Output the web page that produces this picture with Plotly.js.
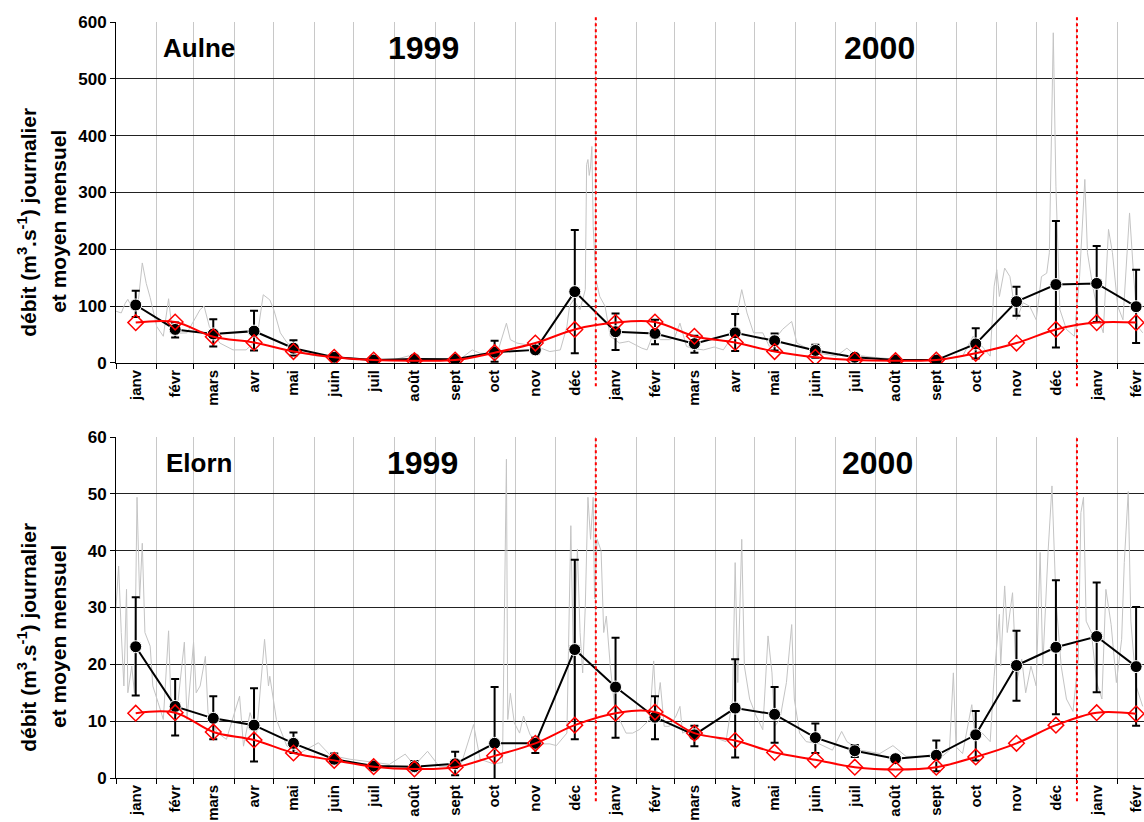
<!DOCTYPE html>
<html><head><meta charset="utf-8">
<script src="https://cdn.plot.ly/plotly-3.0.1.min.js"></script>
<style>html,body{margin:0;padding:0;overflow:hidden;background:#fff}</style>
</head><body><div id="chart" style="width:1144px;height:822px"></div>
<script>
// ---- month axis ----
const midMonths = ['1999-01-16','1999-02-15','1999-03-16','1999-04-16','1999-05-16','1999-06-16','1999-07-16','1999-08-16','1999-09-16','1999-10-16','1999-11-16','1999-12-16',
  '2000-01-16','2000-02-15','2000-03-16','2000-04-16','2000-05-16','2000-06-16','2000-07-16','2000-08-16','2000-09-16','2000-10-16','2000-11-16','2000-12-16','2001-01-16','2001-02-15'];
const tickLabels = ['janv','févr','mars','avr','mai','juin','juil','août','sept','oct','nov','déc',
  'janv','févr','mars','avr','mai','juin','juil','août','sept','oct','nov','déc','janv','févr'];
const yearBreaks = ['2000-01-01','2001-01-01'];
const yTitleLines = ['débit (m<sup>3</sup>.s<sup>-1</sup>) journalier', 'et moyen mensuel'];

// ---- Aulne ----
const aulneMean = [102,59,51,56,26,10,5,7,6.5,19,23,125.5,55,52,34,53,39,22,10,5,5,33.5,108,138,140,99];
const aulneMax  = [127,71,77,92,40,13,6,9,8,39,26,234,87,76,48,86,52,32,12,6,6,61,134,250,206,164];
const aulneMin  = [81,45,29,22,13,8,4,5,5,2,20,17,23,33,18,21,22,9,8,4,4,8,83,27,72,35];
const aulneInter = [71,72,46,36,20,10,5,4,5,18,35,59,71,72,47,36,20,10,5,4,5,17,35,59,71,71];
const aulneDays = [0,4,7,9,12,17,20,23,26,31,36,40,43,54,64,67,71,79,89,99,107,112,117,120,125,130,140,153,166,182,197,212,227,231,246,262,271,277,290,297,300,305,320,330,338,343,345,348,353,357,358,359,360,361,362,363,365,368,372,376,383,390,396,400,404,409,414,421,425,429,434,440,447,455,462,469,476,480,485,492,497,507,514,518,523,535,548,556,562,576,596,627,644,652,660,665,668,670,672,676,680,685,690,695,700,704,708,710,713,715,718,723,729,733,737,739,743,748,751,755,758,762,766,771,774,777,781];
const aulneDaily = [91,88,105,112,98,110,176,140,115,64,47,113,52,53,94,100,64,35,23,23,40,120,111,94,53,36,18,12,11,8,6,6,15,7,6,7,23,17,17,70,41,35,29,20,23,64,100,111,94,129,349,358,330,345,381,240,147,117,100,47,35,38,30,26,23,53,41,41,45,70,29,25,23,28,23,47,129,88,53,53,29,59,73,35,29,17,12,26,14,10,6,6,12,47,26,12,135,164,117,167,152,76,106,100,76,152,158,194,581,311,94,59,47,152,323,194,135,76,53,235,194,100,76,264,158,65,53];

// ---- Elorn ----
const elornMean = [23.1,12.6,10.5,9.3,6.1,3.3,2.1,2.0,2.5,6.1,6.1,22.6,16.0,10.7,7.6,12.3,11.2,7.1,4.8,3.4,4.0,7.6,19.8,23.0,24.9,19.6];
const elornMax  = [31.8,17.4,14.4,15.8,8.0,4.3,2.4,3.0,4.6,16.0,7.1,38.4,24.7,14.4,9.2,20.9,16.0,9.6,5.8,3.8,6.6,11.8,25.9,34.8,34.4,30.1];
const elornMin  = [14.5,7.5,6.8,2.9,4.4,2.8,1.9,1.2,0.5,-0.5,4.4,6.8,7.1,6.8,5.6,3.6,6.2,4.4,3.7,3.0,1.2,3.1,13.6,11.2,15.1,9.2];
const elornInter = [11.4,11.5,8.1,6.7,4.4,3.1,2.0,1.6,1.9,3.9,6.1,9.3,11.4,11.6,7.9,6.6,4.5,3.2,1.9,1.5,1.9,3.7,6.1,9.3,11.5,11.3];
const elornDays = [0,2,4,6,8,9,12,14,16,18,20,22,26,28,32,36,40,42,46,52,54,59,61,64,68,70,77,84,94,97,102,107,113,116,117,122,130,140,154,163,178,193,208,220,227,237,246,262,272,277,287,294,297,298,300,303,307,310,315,322,330,335,343,346,348,351,353,355,357,359,361,363,364,366,369,371,373,376,380,383,388,393,398,406,409,411,414,417,421,426,429,431,436,447,457,464,469,471,473,476,478,482,487,492,496,499,501,505,510,514,516,520,525,535,545,552,556,566,581,591,601,615,627,634,637,639,644,651,654,659,665,668,672,673,676,678,682,685,689,692,696,700,703,705,709,712,715,719,723,728,732,734,736,738,742,746,750,753,757,761,765,767,770,772,776,781];
const elornDaily = [30,37.3,25.6,16.2,33.2,15.0,19.7,15.0,49.4,31.5,41.3,25.6,23.2,16.2,13.3,10.3,25.9,12.1,10.9,23.9,10.3,23.9,15.0,16.2,21.4,11.5,8.0,6.8,14.4,5.6,11.5,8.0,24.4,16.2,17.9,10.3,5.6,4.4,6.2,4.0,3.3,2.8,2.4,4.2,2.2,4.7,2.0,2.0,9.4,3.3,2.5,2.7,56.1,10.3,14.9,9.7,7.9,10.9,7.6,6.0,6.0,5.7,7.9,44.4,19.7,40.3,25.6,18.5,30.3,49.4,42.0,49.4,31.5,42.0,40.0,25.6,28.5,19.7,11.0,10.3,7.9,7.9,8.5,10.3,20.6,11.4,16.8,9.1,9.1,10.9,12.6,7.9,8.5,7.6,7.0,6.4,13.9,37.9,16.8,42.0,19.7,13.9,10.9,8.5,25.0,18.5,9.1,10.3,16.8,27.0,13.9,7.9,6.4,6.0,4.9,8.2,6.4,4.9,4.3,5.7,3.8,3.8,3.5,4.9,18.5,5.5,4.3,12.9,6.4,7.9,6.4,17.9,28.8,19.7,33.8,25.6,32.6,16.8,20.9,15,19.7,16.2,39.7,19.7,39.7,51.4,31.5,19.7,13.9,11.7,20.9,46.7,49.4,27.6,25.6,16.8,13.9,33.2,27,16.8,24.4,37.9,50.4,27.6,16.2,12.6];

function dayToDate(d){ return new Date(Date.UTC(1999,0,1) + d*86400000).toISOString().slice(0,10); }
const diff = (a,b) => a.map((v,i)=>v-b[i]);

const FONT = 'Liberation Sans, Arial, sans-serif';

function traces(days, daily, mean, max, min, inter, xa, ya){
  return [
    {x: days.map(dayToDate), y: daily, xaxis: xa, yaxis: ya, type:'scatter', mode:'lines',
     line:{color:'#c4c4c4', width:1}, hoverinfo:'skip'},
    {x: midMonths, y: mean, xaxis: xa, yaxis: ya, type:'scatter', mode:'lines+markers',
     line:{color:'#000', width:2}, marker:{symbol:'circle', size:12, color:'#000', line:{color:'#fff', width:1}},
     error_y:{type:'data', symmetric:false, array: diff(max,mean), arrayminus: diff(mean,min), color:'#000', thickness:2, width:4}},
    {x: midMonths, y: inter, xaxis: xa, yaxis: ya, type:'scatter', mode:'lines+markers',
     line:{color:'#ff0000', width:2, shape:'spline', smoothing:1},
     marker:{symbol:'diamond-open', size:12, color:'#ff0000', line:{width:1.5}}}
  ];
}

const data = [].concat(
  traces(aulneDays, aulneDaily, aulneMean, aulneMax, aulneMin, aulneInter, 'x', 'y'),
  traces(elornDays, elornDaily, elornMean, elornMax, elornMin, elornInter, 'x2', 'y2')
);

function xAxis(anchor){
  return {type:'date', range:['1999-01-01','2001-02-21'], anchor: anchor, domain:[0,1],
    tickmode:'array', tickvals: midMonths, ticktext: tickLabels, tickangle:-90, ticks:'', showgrid:false,
    tickfont:{family:FONT, size:15, color:'#000', weight:'bold'},
    minor:{dtick:'M1', tick0:'1999-01-01', showgrid:true, gridcolor:'#c8c8c8', gridwidth:1, ticks:'outside', ticklen:5, tickcolor:'#000', tickwidth:1},
    showline:true, linecolor:'#000', linewidth:1, zeroline:false, fixedrange:true};
}
function yAxis(anchor, domain, max, dtick){
  return {range:[0,max], dtick:dtick, anchor: anchor, domain: domain,
    showgrid:true, gridcolor:'#222', gridwidth:1, zeroline:false,
    showline:true, linecolor:'#000', linewidth:1, ticks:'outside', ticklen:5, tickcolor:'#000',
    tickfont:{family:FONT, size:17, color:'#000', weight:'bold'}};
}

const ann = (text, x, y, yref, size, xanchor) => ({text, x, y, xref:'paper', yref, xanchor, yanchor:'middle', showarrow:false,
  font:{family:FONT, size, color:'#000', weight:'bold'}});
const yTitle = (text, x, yref) => ({text, x, y:0.414, xref:'paper', yref, xanchor:'center', yanchor:'middle',
  textangle:-90, showarrow:false, font:{family:FONT, size:21, color:'#000', weight:'bold'}});

const dotted = (x, yref, y0, y1) => ({type:'line', xref:'x', yref, x0:x, x1:x, y0, y1, line:{color:'#ff0000', width:2, dash:'dot'}});

const layout = {
  width:1144, height:822, margin:{l:116, r:0, t:22, b:44}, showlegend:false,
  paper_bgcolor:'#fff', plot_bgcolor:'#fff', font:{family:FONT, color:'#000'},
  xaxis: xAxis('y'), yaxis: yAxis('x', [0.549,1], 600, 100),
  xaxis2: xAxis('y2'), yaxis2: yAxis('x2', [0,0.451], 60, 10),
  annotations:[
    yTitle(yTitleLines[0], -0.0866, 'y domain'),
    yTitle(yTitleLines[1], -0.0554, 'y domain'),
    yTitle(yTitleLines[0], -0.0866, 'y2 domain'),
    yTitle(yTitleLines[1], -0.0554, 'y2 domain'),
    ann('Aulne', 0.0438, 0.925, 'y domain', 26, 'left'),
    ann('1999', 0.299, 0.925, 'y domain', 32, 'center'),
    ann('2000', 0.743, 0.925, 'y domain', 32, 'center'),
    ann('Elorn', 0.0467, 0.925, 'y2 domain', 26, 'left'),
    ann('1999', 0.298, 0.925, 'y2 domain', 32, 'center'),
    ann('2000', 0.741, 0.925, 'y2 domain', 32, 'center')
  ],
  shapes:[
    dotted(yearBreaks[0], 'y domain', -0.068, 1.016),
    dotted(yearBreaks[1], 'y domain', -0.068, 1.016),
    dotted(yearBreaks[0], 'y2 domain', -0.068, 1.0),
    dotted(yearBreaks[1], 'y2 domain', -0.068, 1.0)
  ]
};

Plotly.newPlot('chart', data, layout, {staticPlot:true, displayModeBar:false});
</script></body></html>
